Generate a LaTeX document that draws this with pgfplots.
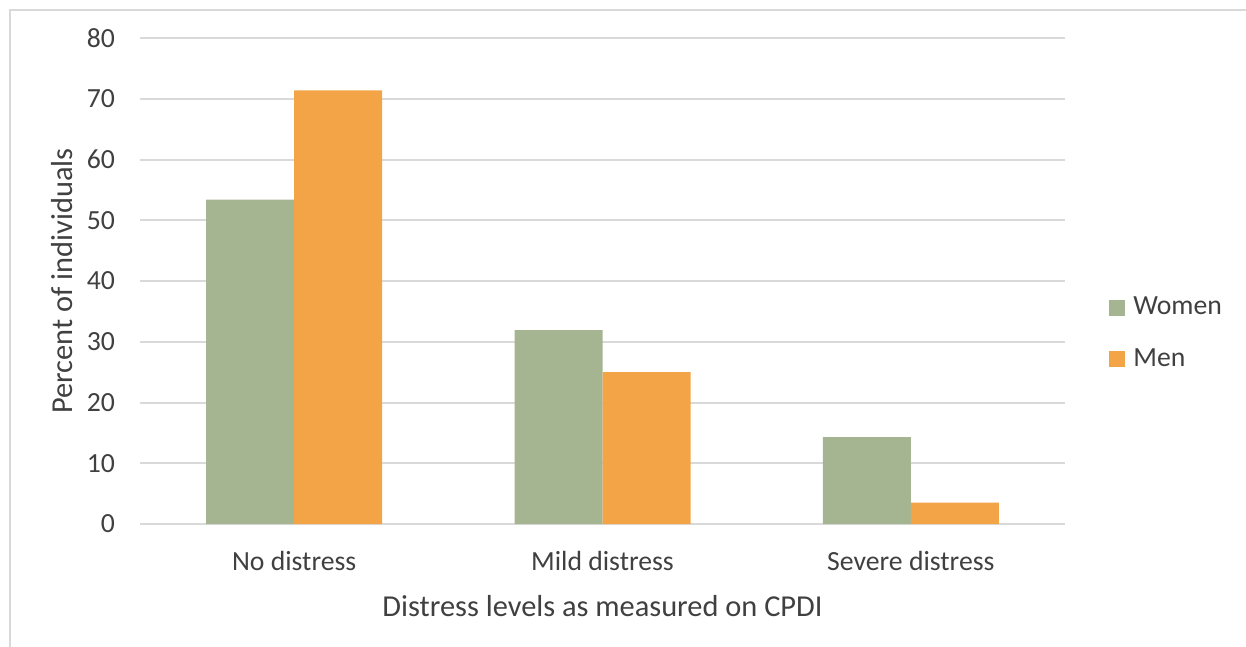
\documentclass[border=0pt]{standalone}
\usepackage{fontspec}
\setmainfont{Carlito}
\usepackage{pgfplots}
\pgfplotsset{compat=1.18}
\definecolor{women}{HTML}{A5B592}
\definecolor{men}{HTML}{F2A446}
\definecolor{txt}{HTML}{404040}
\definecolor{gridc}{HTML}{D9D9D9}
\begin{document}
\begin{tikzpicture}
\useasboundingbox (0pt,0pt) rectangle (623pt,-323.5pt);
\draw[color=gridc, line width=1pt] (5pt,-340pt) -- (5pt,-5pt) -- (640pt,-5pt);
\begin{axis}[
  at={(70pt,-262pt)}, anchor=south west,
  scale only axis, width=462.5pt, height=243pt,
  ybar=0pt, bar width=44pt,
  xmin=-0.5, xmax=2.5, ymin=0, ymax=80,
  xtick={0,1,2}, xticklabels={No distress, Mild distress, Severe distress},
  ytick={0,10,...,80},
  major tick length=0pt,
  axis line style={draw=none},
  ymajorgrids, grid style={color=gridc, line width=1pt},
  axis x line*=bottom, axis y line*=left,
  x axis line style={draw=gridc, line width=1pt},
  y axis line style={draw=none},
  tick label style={font=\fontsize{13.85}{16}\selectfont, color=txt},
  /pgf/number format/assume math mode=true,
  yticklabel style={xshift=-9pt},
  xticklabel style={yshift=-10pt},
  xlabel={Distress levels as measured on CPDI},
  ylabel={Percent of individuals},
  label style={font=\fontsize{15.2}{18}\selectfont, color=txt},
  xlabel style={at={(axis description cs:0.5,-0.1687)}, anchor=center},
  ylabel style={at={(axis description cs:-0.0843,0.5)}, anchor=center, rotate=0},
  legend style={at={(1.041,0.392)}, anchor=west, draw=none, fill=none,
    font=\fontsize{13.85}{16}\selectfont, text=txt, row sep=11.5pt,
    /tikz/every odd column/.append style={column sep=2pt}},
  legend cell align=left,
  legend image code/.code={\draw[#1, draw=none] (0pt,-4pt) rectangle (8pt,4pt);},
  enlarge x limits=false,
]
\addplot[fill=women, draw=none] coordinates {(0,53.4) (1,31.9) (2,14.3)};
\addplot[fill=men, draw=none] coordinates {(0,71.4) (1,25.0) (2,3.5)};
\legend{Women, Men}
\end{axis}
\end{tikzpicture}
\end{document}
